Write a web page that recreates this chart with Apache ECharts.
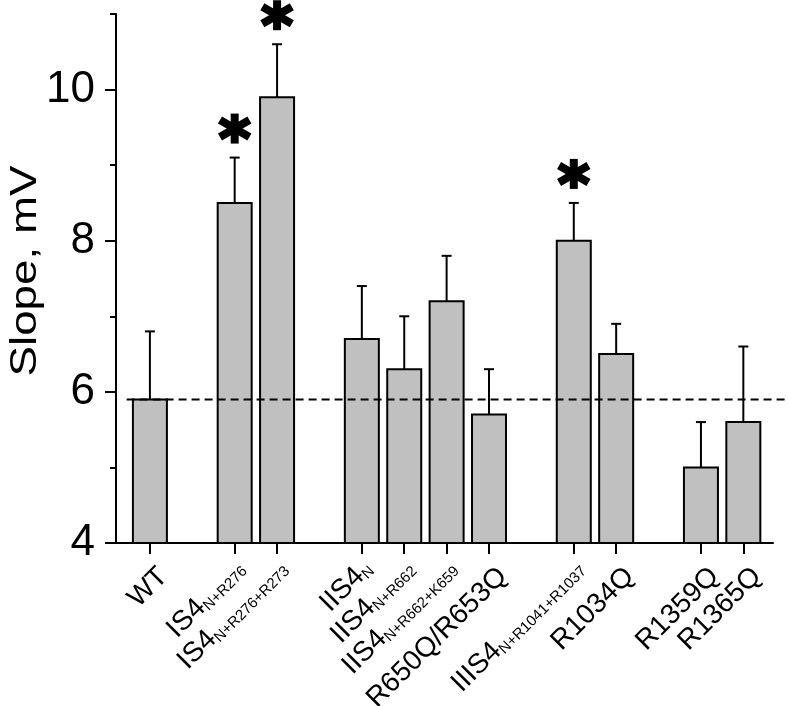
<!DOCTYPE html>
<html><head><meta charset="utf-8">
<script src="https://cdn.jsdelivr.net/npm/echarts@6/dist/echarts.min.js"></script>
<style>html,body{margin:0;padding:0;background:#fff}#c{width:788px;height:706px}</style>
</head><body><div id="c"></div>
<script>
// ---- data ----
const labelMain = ['WT','IS4','IS4','IIS4','IIS4','IIS4','R650Q/R653Q','IIIS4','R1034Q','R1359Q','R1365Q'];
const labelSub  = ['','N+R276','N+R276+R273','N','N+R662','N+R662+K659','','N+R1041+R1037','','',''];
const positions = [0,2,3,5,6,7,8,10,11,13,14];
const slopes    = [5.9,8.5,9.9,6.7,6.3,7.2,5.7,8.0,6.5,5.0,5.6];
const errors    = [0.9,0.6,0.7,0.7,0.7,0.6,0.6,0.5,0.4,0.6,1.0];
const significant = [false,true,true,false,false,false,false,true,false,false,false];
const refLine = 5.9;
const yMajorTicks = [4,6,8,10];
const yMin = 4, yMax = 11;

const FONT = "'Liberation Sans', Arial, sans-serif";
const chart = echarts.init(document.getElementById('c'), null, {renderer:'canvas'});

const barData = positions.map((p,i)=>[p, slopes[i], errors[i], i]);

function renderBar(params, api){
  const x = api.value(0), v = api.value(1), e = api.value(2);
  const top = api.coord([x, v]);
  const base = api.coord([x, yMin]);
  const et = api.coord([x, v+e]);
  const w = 34;
  return {type:'group', children:[
    {type:'rect', shape:{x: top[0]-w/2, y: top[1], width: w, height: base[1]-top[1]},
      style:{fill:'#c0c0c0', stroke:'#000', lineWidth:2}},
    {type:'line', shape:{x1: top[0], y1: top[1], x2: top[0], y2: et[1]}, style:{stroke:'#000', lineWidth:2}},
    {type:'line', shape:{x1: top[0]-5, y1: et[1], x2: top[0]+5, y2: et[1]}, style:{stroke:'#000', lineWidth:2}}
  ]};
}

function renderStar(params, api){
  const i = api.value(3);
  if (!significant[i]) return null;
  const x = api.value(0), v = api.value(1), e = api.value(2);
  const c = api.coord([x, v+e]);
  const cx = c[0], cy = c[1]-29;
  const L = 17, a = Math.PI/6;
  const dx = L*Math.cos(a), dy = L*Math.sin(a);
  const st = {stroke:'#000', lineWidth:8, lineCap:'butt'};
  return {type:'group', children:[
    {type:'line', shape:{x1:cx, y1:cy-15, x2:cx, y2:cy+15}, style:st},
    {type:'line', shape:{x1:cx-dx, y1:cy-dy, x2:cx+dx, y2:cy+dy}, style:st},
    {type:'line', shape:{x1:cx-dx, y1:cy+dy, x2:cx+dx, y2:cy-dy}, style:st}
  ]};
}

function renderLabel(params, api){
  const i = api.value(3);
  const x = api.value(0);
  const t = api.coord([x, yMin]);
  const hasSub = labelSub[i] !== '';
  const fs = 28;
  const p = hasSub ? 29 : 40;       // perpendicular distance of baseline
  const along = -11;
  const pc = p - 0.35*fs;
  const k = Math.SQRT1_2;
  const ax = t[0] + along*k + pc*k;
  const ay = t[1] - along*k + pc*k;
  const txt = hasSub ? '{m|'+labelMain[i]+'}{s|'+labelSub[i]+'}' : '{m|'+labelMain[i]+'}';
  return {type:'text', x: ax, y: ay, rotation: Math.PI/4,
    style:{text: txt, align:'right', verticalAlign:'middle', fill:'#000',
      rich:{
        m:{fontSize:fs, fontFamily:FONT, lineHeight:28, fill:'#000'},
        s:{fontSize:15, fontFamily:FONT, lineHeight:15, verticalAlign:'bottom', fill:'#000'}
      }}};
}

function renderRef(params, api){
  if (params.dataIndex !== 0) return null;
  const a = api.coord([-0.55, refLine]);
  const b = api.coord([15.1, refLine]);
  return {type:'line', shape:{x1:a[0], y1:a[1], x2:b[0], y2:b[1]},
    style:{stroke:'#000', lineWidth:2, lineDash:[8,5]}};
}

const option = {
  animation:false,
  backgroundColor:'#fff',
  grid:{left:116, right:15, top:14, bottom:163, containLabel:false},
  xAxis:{type:'value', min:-0.8, max:14.7,
    axisLine:{show:true, onZero:false, lineStyle:{color:'#000', width:2}},
    axisTick:{show:true, customValues: positions, length:11, lineStyle:{color:'#000', width:2}},
    axisLabel:{show:false}, splitLine:{show:false}},
  yAxis:[
    {type:'value', min:yMin, max:yMax, interval:1,
      axisLine:{show:true, onZero:false, lineStyle:{color:'#000', width:2}},
      axisTick:{show:true, length:6, lineStyle:{color:'#000', width:2}},
      axisLabel:{show:false}, splitLine:{show:false}},
    {type:'value', min:yMin, max:yMax, interval:2, position:'left', offset:0,
      axisLine:{show:false, onZero:false},
      axisTick:{show:true, customValues: yMajorTicks, length:11, lineStyle:{color:'#000', width:2}},
      axisLabel:{show:true, customValues: yMajorTicks, fontSize:44, fontFamily:FONT, color:'#000', margin:21},
      splitLine:{show:false}}
  ],
  graphic:[{type:'text', x:26, y:271, rotation:Math.PI/2, scaleX:1.27,
    style:{text:'Slope, mV', font:"36px 'Liberation Sans', Arial, sans-serif", fill:'#000', align:'center', verticalAlign:'middle'}}],
  series:[
    {type:'custom', renderItem:renderBar, data:barData, clip:false, z:2, encode:{x:0,y:1}},
    {type:'custom', renderItem:renderRef, data:barData, clip:false, z:3, encode:{x:0,y:1}},
    {type:'custom', renderItem:renderStar, data:barData, clip:false, z:4, encode:{x:0,y:1}},
    {type:'custom', renderItem:renderLabel, data:barData, clip:false, z:4, encode:{x:0,y:1}}
  ]
};
chart.setOption(option);
</script></body></html>
